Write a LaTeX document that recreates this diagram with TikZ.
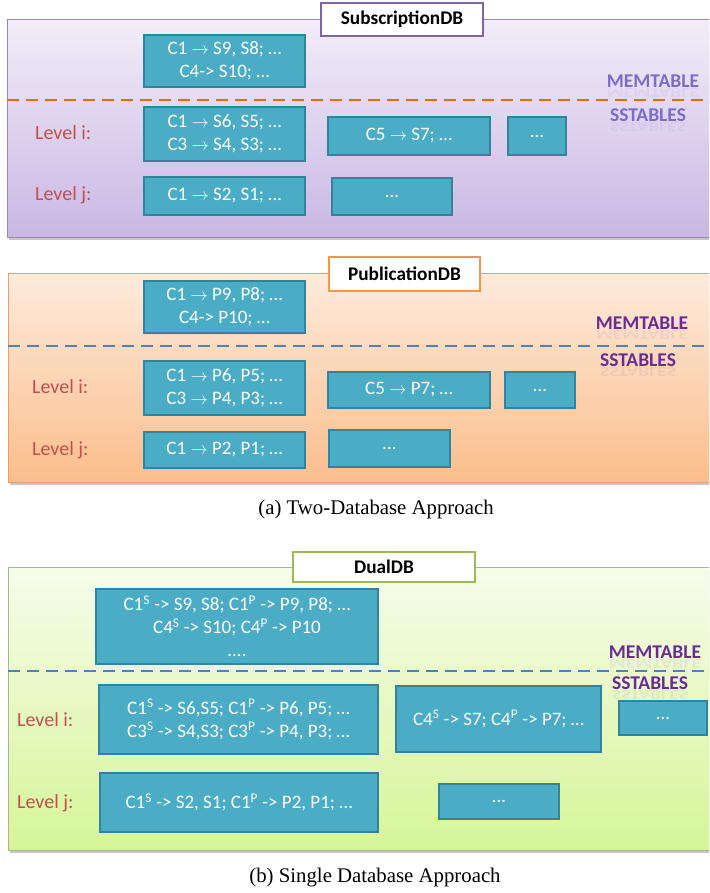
\documentclass[tikz,border=0pt]{standalone}
\usepackage{fontspec}
\setmainfont{Carlito}
\newfontfamily\capfont{Liberation Serif}
\definecolor{cellfill}{HTML}{4BACC6}
\definecolor{celledge}{HTML}{31849B}
\definecolor{lvlred}{HTML}{C0504D}
\definecolor{memA}{HTML}{7D6BC8}
\definecolor{memB}{HTML}{6A2C94}
\definecolor{hdA}{HTML}{8064A2}
\definecolor{hdB}{HTML}{F79646}
\definecolor{hdC}{HTML}{9BBB59}
\definecolor{dashA}{HTML}{E46C0A}
\definecolor{dashB}{HTML}{4F81BD}
\newcommand\toarr{$\rightarrow$}
\newcommand\sS{\textsuperscript{S}}
\newcommand\sP{\textsuperscript{P}}
\begin{document}
\begin{tikzpicture}[x=1pt,y=-1pt,
  cell/.style={draw=celledge, fill=cellfill, line width=1.5pt, text=white,
    font=\fontsize{19}{23}\selectfont, align=center, inner sep=0pt},
  dbhead/.style={fill=white, line width=2pt, font=\bfseries\fontsize{19.3}{22}\selectfont, inner sep=0pt},
  lvl/.style={text=lvlred, font=\fontsize{20}{22}\selectfont, anchor=west, inner sep=0pt},
  tier/.style={font=\bfseries\fontsize{19.5}{24}\selectfont, inner sep=0pt},
  mirror/.style={tier, yscale=-0.7, opacity=0.08},
  split/.style={line width=2.5pt, dash pattern=on 12pt off 7pt},
  capt/.style={font=\capfont\fontsize{20.8}{24}\selectfont, inner sep=0pt}]
\clip (0,0) rectangle (709,893);
\fill[white] (0,0) rectangle (709,893);

% ---------------- SubscriptionDB ----------------
\fill[black!22] (9,22.5) rectangle (717,239.5);
\shade[top color={rgb,255:red,242;green,237;blue,249}, bottom color={rgb,255:red,202;green,183;blue,227}]
  (7,20) rectangle (715,237);
\draw[line width=1pt, color={rgb,255:red,150;green,138;blue,168}] (7,20) rectangle (715,237);
\node[dbhead, draw=hdA, minimum width=162, minimum height=33] (h1) at (402,19.5) {SubscriptionDB};
\node[cell, minimum width=161, minimum height=52] (s-mem) at (224.5,61) {C1 \toarr{} S9, S8; …\\C4-> S10; …};
\coordinate (s-l) at (7,100);
\coordinate (s-r) at (709,100);
\draw[split, dashA] (s-l) -- (s-r);
\node[mirror, text=memA] at (653,93) {MEMTABLE};
\node[tier, text=memA] (s-mt) at (653,81) {MEMTABLE};
\node[mirror, text=memA] at (648,127) {SSTABLES};
\node[tier, text=memA] (s-st) at (648,115) {SSTABLES};
\node[lvl] (s-li) at (35,133) {Level i:};
\node[lvl] (s-lj) at (35,195) {Level j:};
\node[cell, minimum width=161, minimum height=54] (s-i1) at (224.5,134) {C1 \toarr{} S6, S5; …\\C3 \toarr{} S4, S3; …};
\node[cell, minimum width=162, minimum height=38] (s-i2) at (409,136) {C5 \toarr{} S7; …};
\node[cell, minimum width=58, minimum height=38] (s-i3) at (537,136) {…};
\node[cell, minimum width=161, minimum height=38] (s-j1) at (224.5,196) {C1 \toarr{} S2, S1; …};
\node[cell, minimum width=120, minimum height=37] (s-j2) at (392,196.5) {…};

% ---------------- PublicationDB ----------------
\fill[black!22] (10,275.5) rectangle (717,484.5);
\shade[top color={rgb,255:red,253;green,235;blue,221}, bottom color={rgb,255:red,251;green,190;blue,140}]
  (8,273) rectangle (715,482);
\draw[line width=1pt, color={rgb,255:red,228;green,160;blue,112}] (8,273) rectangle (715,482);
\node[dbhead, draw=hdB, minimum width=151, minimum height=34] (h2) at (404.5,274) {PublicationDB};
\node[cell, minimum width=161, minimum height=52] (p-mem) at (224.5,307) {C1 \toarr{} P9, P8; …\\C4-> P10; …};
\coordinate (p-l) at (8,346);
\coordinate (p-r) at (709,346);
\draw[split, dashB] (p-l) -- (p-r);
\node[mirror, text=memB] at (642,335) {MEMTABLE};
\node[tier, text=memB] (p-mt) at (642,323) {MEMTABLE};
\node[mirror, text=memB] at (638,372) {SSTABLES};
\node[tier, text=memB] (p-st) at (638,360) {SSTABLES};
\node[lvl] (p-li) at (32,387) {Level i:};
\node[lvl] (p-lj) at (32,450) {Level j:};
\node[cell, minimum width=161, minimum height=54] (p-i1) at (224.5,388) {C1 \toarr{} P6, P5; …\\C3 \toarr{} P4, P3; …};
\node[cell, minimum width=162, minimum height=36] (p-i2) at (409,390) {C5 \toarr{} P7; …};
\node[cell, minimum width=70, minimum height=36] (p-i3) at (540,390) {…};
\node[cell, minimum width=161, minimum height=36] (p-j1) at (224.5,450) {C1 \toarr{} P2, P1; …};
\node[cell, minimum width=121, minimum height=37] (p-j2) at (389.5,448.5) {…};

\node[capt] (capa) at (376,509) {(a) Two-Database Approach};

% ---------------- DualDB ----------------
\fill[black!22] (10,569.5) rectangle (717,852.5);
\shade[top color={rgb,255:red,246;green,252;blue,235}, bottom color={rgb,255:red,214;green,245;blue,152}]
  (8,567) rectangle (715,850);
\draw[line width=1pt, color={rgb,255:red,170;green,180;blue,150}] (8,567) rectangle (715,850);
\node[dbhead, draw=hdC, minimum width=182, minimum height=30] (h3) at (384,567) {DualDB};
\node[cell, minimum width=282, minimum height=75] (d-mem) at (237,626.5)
  {C1\sS{} -> S9, S8; C1\sP{} -> P9, P8; …\\C4\sS{} -> S10; C4\sP{} -> P10\\....};
\coordinate (d-l) at (8,671);
\coordinate (d-r) at (709,671);
\draw[split, dashB] (d-l) -- (d-r);
\node[mirror, text=memB] at (655,664) {MEMTABLE};
\node[tier, text=memB] (d-mt) at (655,652) {MEMTABLE};
\node[mirror, text=memB] at (650,695) {SSTABLES};
\node[tier, text=memB] (d-st) at (650,683) {SSTABLES};
\node[lvl] (d-li) at (17,720) {Level i:};
\node[lvl] (d-lj) at (17,803) {Level j:};
\node[cell, minimum width=279, minimum height=69] (d-i1) at (238.5,719.5)
  {C1\sS{} -> S6,S5; C1\sP{} -> P6, P5; …\\C3\sS{} -> S4,S3; C3\sP{} -> P4, P3; …};
\node[cell, minimum width=205, minimum height=66] (d-i2) at (498.5,719) {C4\sS{} -> S7; C4\sP{} -> P7; …};
\node[cell, minimum width=88, minimum height=34] (d-i3) at (663,718) {…};
\node[cell, minimum width=278, minimum height=59] (d-j1) at (239,802.5) {C1\sS{} -> S2, S1; C1\sP{} -> P2, P1; …};
\node[cell, minimum width=120, minimum height=35] (d-j2) at (499,801.5) {…};

\node[capt] (capb) at (375,878) {(b) Single Database Approach};
\end{tikzpicture}
\end{document}
